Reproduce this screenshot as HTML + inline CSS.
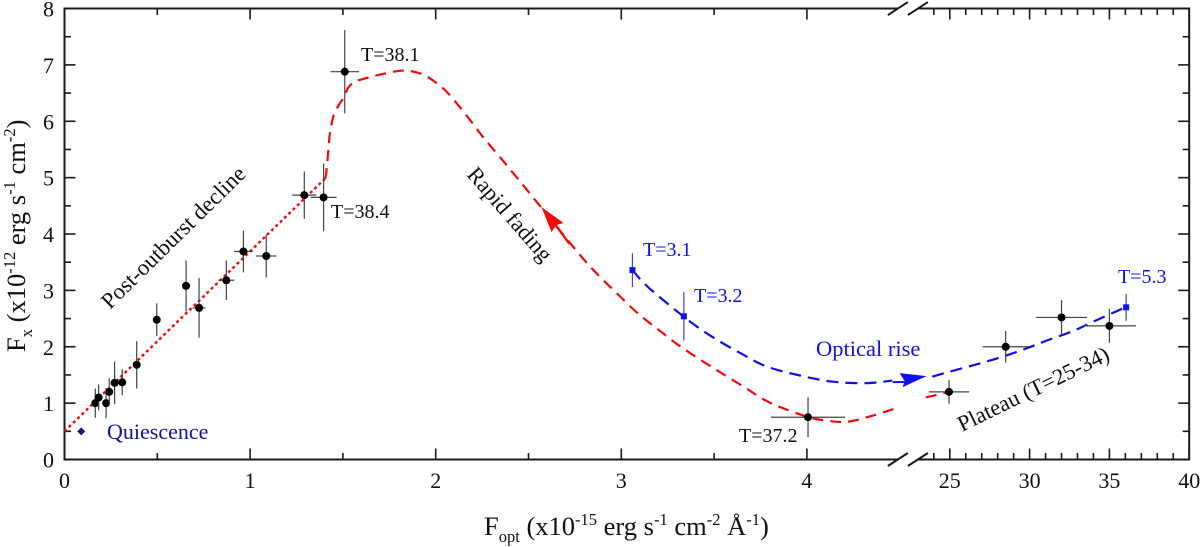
<!DOCTYPE html>
<html lang="en">
<head>
<meta charset="utf-8">
<title>X-ray versus optical flux</title>
<style>
html,body{margin:0;padding:0;background:#fff;width:1200px;height:547px;overflow:hidden}
svg{display:block}
text{font-family:"Liberation Serif",serif;fill:#111}
.tick-label{font-size:22px}
.axis-title{font-size:26.5px}
.sm{font-size:16.5px}
.note{font-size:20px}
.big{font-size:22.5px}
.blue{fill:#1010f0}
</style>
</head>
<body>
<svg id="chart" xmlns="http://www.w3.org/2000/svg" width="1200" height="547" viewBox="0 0 1200 547">
  <g id="grid-layer"></g>
  <g id="curve-layer"></g>
  <g id="point-layer"></g>

  <text class="axis-title" x="484" y="535">F<tspan class="sm" dy="7">opt</tspan><tspan dy="-7"> (x10</tspan><tspan class="sm" dy="-10">-15</tspan><tspan dy="10"> erg s</tspan><tspan class="sm" dy="-10">-1</tspan><tspan dy="10"> cm</tspan><tspan class="sm" dy="-10">-2</tspan><tspan dy="10"> Å</tspan><tspan class="sm" dy="-10">-1</tspan><tspan dy="10">)</tspan></text>
  <text class="axis-title" transform="translate(25,352) rotate(-90)">F<tspan class="sm" dy="7">x</tspan><tspan dy="-7"> (x10</tspan><tspan class="sm" dy="-10">-12</tspan><tspan dy="10"> erg s</tspan><tspan class="sm" dy="-10">-1</tspan><tspan dy="10"> cm</tspan><tspan class="sm" dy="-10">-2</tspan><tspan dy="10">)</tspan></text>

  <text class="note" x="361" y="61">T=38.1</text>
  <text class="note" x="331" y="218">T=38.4</text>
  <text class="note" x="739" y="442">T=37.2</text>
  <text class="note blue" x="643" y="256">T=3.1</text>
  <text class="note blue" x="694" y="302">T=3.2</text>
  <text class="note blue" x="1118" y="283">T=5.3</text>
  <text class="big" style="fill:#14149c;font-size:22px" x="107" y="439">Quiescence</text>
  <text class="big blue" x="816" y="356">Optical rise</text>
  <text class="big" style="font-size:22.7px" transform="translate(110,310) rotate(-44.5)">Post-outburst decline</text>
  <text class="big" transform="translate(466,175) rotate(49)">Rapid fading</text>
  <text class="big" transform="translate(962,432) rotate(-26)">Plateau (T=25-34)</text>
</svg>

<script>
// Tick labels
var xTickLabelsLow = [0, 1, 2, 3, 4];
var xTickLabelsHigh = [25, 30, 35, 40];
var yTickLabels = [0, 1, 2, 3, 4, 5, 6, 7, 8];

// Axis domain
var xLowMax = 4.49;
var xHighMin = 23;
var xHighMax = 40;
var yMax = 8;

// Black data points
var pointX = [0.166, 0.184, 0.224, 0.241, 0.27, 0.311, 0.389, 0.497, 0.655, 0.725, 0.872, 0.964, 1.087, 1.292, 1.396, 1.51, 4.006, 24.95, 28.5, 32, 35];
var pointY = [1.0, 1.1, 1.0, 1.2, 1.36, 1.37, 1.68, 2.48, 3.08, 2.69, 3.18, 3.69, 3.61, 4.69, 4.65, 6.88, 0.75, 1.2, 2.0, 2.52, 2.37];
var pointXErr = [0.01, 0.01, 0.01, 0.01, 0.01, 0.01, 0.01, 0.01, 0.01, 0.035, 0.043, 0.05, 0.055, 0.065, 0.07, 0.077, 0.2, 1.26, 1.44, 1.6, 1.66];
var pointYErr = [0.26, 0.23, 0.27, 0.24, 0.38, 0.23, 0.42, 0.29, 0.45, 0.53, 0.35, 0.37, 0.38, 0.42, 0.6, 0.74, 0.355, 0.21, 0.28, 0.31, 0.3];

// Blue data points
var bluePointX = [3.06, 3.337, 36.05];
var bluePointY = [3.36, 2.54, 2.7];
var bluePointYErr = [0.3, 0.43, 0.24];

// Quiescence point
var quiescenceX = [0.09];
var quiescenceY = [0.5];

// Red dotted decline
var declineX = [0, 1.403];
var declineY = [0.5, 4.98];

// Red dashed fading curve, before and after the axis break
var fadingLowX = [1.403, 1.409, 1.421, 1.43, 1.448, 1.463, 1.484, 1.508, 1.529, 1.565, 1.619, 1.717, 1.825, 1.915, 1.978, 2.06, 2.167, 2.255, 2.36, 2.47, 2.544, 2.777, 2.885, 2.957, 3.09, 3.225, 3.316, 3.478, 3.655, 3.8, 4.0, 4.108, 4.216, 4.356, 4.48];
var fadingLowY = [4.98, 5.05, 5.46, 5.79, 6.08, 6.2, 6.32, 6.44, 6.6, 6.7, 6.76, 6.84, 6.9, 6.85, 6.74, 6.52, 6.1, 5.72, 5.31, 4.87, 4.57, 3.63, 3.24, 3.01, 2.59, 2.24, 2.01, 1.66, 1.3, 1.01, 0.76, 0.69, 0.67, 0.78, 0.91];
var fadingHighX = [23.5, 24.95];
var fadingHighY = [1.1, 1.2];

// Blue dashed rise curve, before and after the axis break
var riseLowX = [3.06, 3.144, 3.334, 3.478, 3.64, 3.783, 3.963, 4.14, 4.32, 4.46];
var riseLowY = [3.36, 3.06, 2.54, 2.2, 1.89, 1.65, 1.49, 1.38, 1.355, 1.4];
var riseHighX = [23.9, 25.01, 26.58, 28.15, 29.7, 31.17, 32.74, 34.1, 36.0];
var riseHighY = [1.47, 1.56, 1.68, 1.81, 1.96, 2.12, 2.28, 2.46, 2.7];

// Arrow tips
var redArrowTipX = [2.57];
var redArrowTipY = [4.48];
var blueArrowTipX = [23.55];
var blueArrowTipY = [1.48];

function xScale(v) {
  return v <= 4.5 ? 64.5 + 185.6 * v : 949.8 + 15.96 * (v - 25);
}
function yScale(v) {
  return 459.5 - 56.37 * v;
}

var NS = 'http://www.w3.org/2000/svg';
var axesLayer = document.getElementById('grid-layer');
var curveLayer = document.getElementById('curve-layer');
var pointLayer = document.getElementById('point-layer');

function make(tag, parent, attrs) {
  var el = document.createElementNS(NS, tag);
  for (var k in attrs) el.setAttribute(k, attrs[k]);
  parent.appendChild(el);
  return el;
}

function axisLine(x1, y1, x2, y2, width) {
  var el = make('line', axesLayer, {x1: x1, y1: y1, x2: x2, y2: y2, stroke: '#1a1a1a', 'stroke-width': width});
  
  
}

var top0 = yScale(yMax), bot0 = yScale(0), left0 = xScale(0), right0 = xScale(xHighMax);
var breakA = xScale(xLowMax), breakB = xScale(xHighMin);

// Frame
axisLine(left0, top0 - 1, left0, bot0 + 1, 2);
axisLine(right0, top0 - 1, right0, bot0 + 1, 2);
axisLine(left0, bot0, breakA, bot0, 2);
axisLine(breakB, bot0, right0, bot0, 2);
axisLine(left0, top0, breakA, top0, 2);
axisLine(breakB, top0, right0, top0, 2);

// Break marks
[top0, bot0].forEach(function (yy) {
  [breakA, breakB].forEach(function (xx) {
    axisLine(xx - 10, yy + 6.5, xx + 10, yy - 6.5, 2);
  });
});

function xTick(v, len) {
  var px = xScale(v);
  axisLine(px, bot0, px, bot0 - len, 1.6);
  axisLine(px, top0, px, top0 + len, 1.6);
}
function yTick(v, len) {
  var py = yScale(v);
  axisLine(left0, py, left0 + len, py, 1.6);
  axisLine(right0, py, right0 - len, py, 1.6);
}
function tickText(str, px, py, anchor) {
  var el = make('text', axesLayer, {x: px, y: py, 'text-anchor': anchor, 'class': 'tick-label'});
  
  
  el.textContent = str;
}

xTickLabelsLow.forEach(function (v) {
  xTick(v, 11);
  if (v + 0.5 <= xLowMax) xTick(v + 0.5, 6.5);
  tickText(v, xScale(v), 488, 'middle');
});
xTickLabelsHigh.forEach(function (v) {
  xTick(v, 11);
  tickText(v, xScale(v), 488, 'middle');
  for (var m = v - 4; m < v; m++) {
    if (m > xHighMin) xTick(m, 6.5);
  }
});
yTickLabels.forEach(function (v) {
  yTick(v, 11);
  if (v < yMax) yTick(v + 0.5, 6.5);
  tickText(v, 54, yScale(v) + 8, 'end');
});

// Catmull-Rom through the points
function smoothPath(xs, ys) {
  var p = xs.map(function (x, i) { return [xScale(x), yScale(ys[i])]; });
  var d = 'M' + p[0][0] + ' ' + p[0][1];
  for (var i = 0; i < p.length - 1; i++) {
    var a = p[Math.max(i - 1, 0)], b = p[i], c = p[i + 1], e = p[Math.min(i + 2, p.length - 1)];
    d += ' C' + (b[0] + (c[0] - a[0]) / 6) + ' ' + (b[1] + (c[1] - a[1]) / 6) + ' ' +
         (c[0] - (e[0] - b[0]) / 6) + ' ' + (c[1] - (e[1] - b[1]) / 6) + ' ' + c[0] + ' ' + c[1];
  }
  return d;
}
function curve(xs, ys, color, width, dash) {
  return make('path', curveLayer, {d: smoothPath(xs, ys), fill: 'none', stroke: color, 'stroke-width': width, 'stroke-dasharray': dash});
}

var declineLine = curve(declineX, declineY, '#f50a0a', 2.4, '3 3');



var fadingLine = curve(fadingLowX, fadingLowY, '#f50a0a', 2.2, '11 7');



var fadingLine2 = curve(fadingHighX, fadingHighY, '#f50a0a', 2.2, '11 7');



var riseLine = curve(riseLowX, riseLowY, '#1010f0', 2.2, '12 7');



var riseLine2 = curve(riseHighX, riseHighY, '#1010f0', 2.2, '12 7');



// Arrows placed relative to their data-space tips
var rtx = xScale(redArrowTipX[0]), rty = yScale(redArrowTipY[0]);
var redShaft = make('line', curveLayer, {x1: rtx + 14, y1: rty + 18, x2: rtx + 28, y2: rty + 37, stroke: '#f50a0a', 'stroke-width': 2.4});


var redHead = make('polygon', curveLayer, {points: [rtx, rty, rtx + 22, rty + 16, rtx + 15, rty + 18, rtx + 10, rty + 25].join(' '), fill: '#f50a0a'});



var btx = xScale(blueArrowTipX[0]), bty = yScale(blueArrowTipY[0]);
var blueShaft = make('line', curveLayer, {x1: btx - 34, y1: bty + 6, x2: btx - 20, y2: bty + 6, stroke: '#1010f0', 'stroke-width': 2});


var blueHead = make('polygon', curveLayer, {points: [btx, bty, btx - 27, bty - 3, btx - 22, bty + 5, btx - 24, bty + 11].join(' '), fill: '#1010f0'});



// Black points with error bars
pointX.forEach(function (x, i) {
  var px = xScale(x), py = yScale(pointY[i]);
  var h = make('line', pointLayer, {x1: xScale(x - pointXErr[i]), y1: py, x2: xScale(x + pointXErr[i]), y2: py, stroke: '#444', 'stroke-width': 1.2});
  
  
  var v = make('line', pointLayer, {x1: px, y1: yScale(pointY[i] + pointYErr[i]), x2: px, y2: yScale(pointY[i] - pointYErr[i]), stroke: '#444', 'stroke-width': 1.2});
  
  
  var c = make('circle', pointLayer, {cx: px, cy: py, r: 4, fill: '#000'});
  
  
});

// Blue square points with error bars
bluePointX.forEach(function (x, i) {
  var px = xScale(x), py = yScale(bluePointY[i]);
  var v = make('line', pointLayer, {x1: px, y1: yScale(bluePointY[i] + bluePointYErr[i]), x2: px, y2: yScale(bluePointY[i] - bluePointYErr[i]), stroke: '#3c3cf0', 'stroke-width': 1.2});
  
  
  var s = make('rect', pointLayer, {x: px - 3, y: py - 3, width: 6, height: 6, fill: '#1010f0'});
  
  
});

// Quiescence diamond
quiescenceX.forEach(function (x, i) {
  var px = xScale(x), py = yScale(quiescenceY[i]);
  var d = make('polygon', pointLayer, {points: [px, py - 4, px + 4, py, px, py + 4, px - 4, py].join(' '), fill: '#14147c'});
  
  
});
</script>
</body>
</html>
